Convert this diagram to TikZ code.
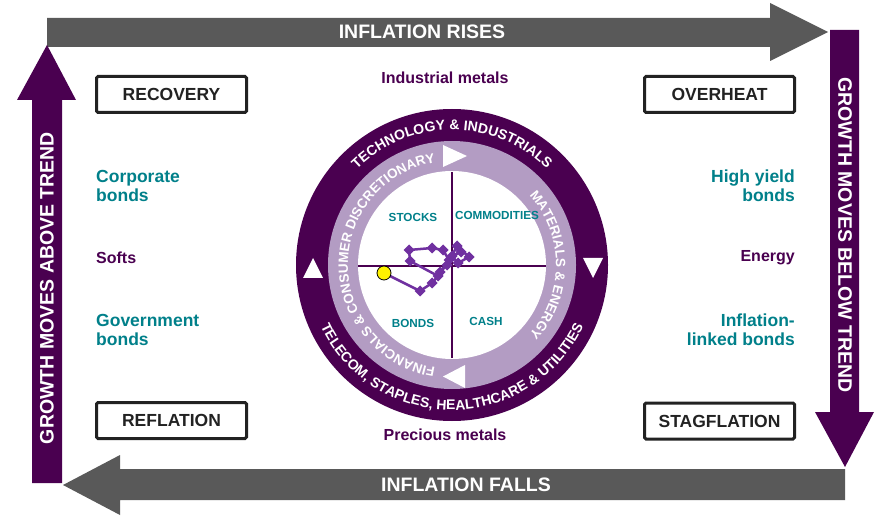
\documentclass[tikz,border=0pt]{standalone}
\usepackage{fontspec}
\setmainfont{Liberation Sans}
\usetikzlibrary{decorations.text}
\definecolor{dpurple}{HTML}{4A0050}
\definecolor{lav}{HTML}{B39CC3}
\definecolor{tealc}{HTML}{00808A}
\definecolor{agray}{HTML}{595959}
\definecolor{boxtext}{HTML}{222222}
\definecolor{zig}{HTML}{7030A0}
\newcommand{\fs}[2]{\fontsize{#1}{#2}\selectfont\bfseries}
\begin{document}
\begin{tikzpicture}[x=1pt,y=1pt,
  phase/.style={draw=boxtext, line width=3pt, rounded corners=1.5pt, minimum width=150pt, minimum height=36pt, inner sep=0pt, font=\fs{17.5}{18}, text=boxtext},
  asset/.style={font=\fs{17.5}{19}, text=tealc, inner sep=0pt},
  commod/.style={font=\fs{16}{17}, text=dpurple, inner sep=0pt},
  quad/.style={font=\fs{11.7}{12}, text=tealc, inner sep=0pt},
  bigtext/.style={font=\fs{19.5}{20}, text=white, inner sep=0pt},
  ringtext/.style={decorate, decoration={text along path, text align=center, text color=white, text={#1}}}
]
\useasboundingbox (0,0) rectangle (894,528);
\fill[white] (0,0) rectangle (894,528);

% big arrows
\fill[agray] (47,510) -- (770,510) -- (770,525) -- (828,496) -- (770,467) -- (770,481) -- (47,481) -- cycle;
\fill[dpurple] (830,498) -- (859,498) -- (859,116) -- (874,116) -- (845,61) -- (815,116) -- (830,116) -- cycle;
\fill[agray] (845,59) -- (120,59) -- (120,73) -- (63,43) -- (120,13) -- (120,28) -- (845,28) -- cycle;
\fill[dpurple] (32,45) -- (32,428) -- (17,428) -- (47,483) -- (76,428) -- (62,428) -- (62,45) -- cycle;

\node[bigtext] (rises) at (422,496) {INFLATION RISES};
\node[bigtext] (falls) at (466,43) {INFLATION FALLS};
\node[bigtext, rotate=-90] (below) at (845,293) {GROWTH MOVES BELOW TREND};
\node[bigtext, rotate=90] (above) at (47,240) {GROWTH MOVES ABOVE TREND};

% phase boxes
\node[phase] (recovery) at (171.5,433.5) {RECOVERY};
\node[phase] (overheat) at (719.5,433.5) {OVERHEAT};
\node[phase] (reflation) at (171.5,107.5) {REFLATION};
\node[phase] (stagflation) at (719.5,107) {STAGFLATION};

% side texts
\node[asset, anchor=west, align=left] (corp) at (96,342.5) {Corporate\\bonds};
\node[commod, anchor=west] (softs) at (96,270) {Softs};
\node[asset, anchor=west, align=left] (gov) at (96,198.5) {Government\\bonds};
\node[asset, anchor=east, align=right] (hy) at (795,342.5) {High yield\\bonds};
\node[commod, anchor=east] (energy) at (795,270) {Energy};
\node[asset, anchor=east, align=right] (il) at (795,198.5) {Inflation-\\linked bonds};
\node[commod] (indmet) at (445,450) {Industrial metals};
\node[commod] (precmet) at (445,93) {Precious metals};

% clock
\coordinate (C) at (452,263);
\fill[dpurple] (C) circle (156);
\fill[lav] (C) circle (124);
\fill[white] (C) circle (94);

\path[ringtext={|\fs{14}{14}|TECHNOLOGY {\&} INDUSTRIALS}] (C) ++(170:135) arc[start angle=170, end angle=10, radius=135];
\path[ringtext={|\fs{14}{14}|TELECOM, STAPLES, HEALTHCARE {\&} UTILITIES}] (C) ++(190:145) arc[start angle=190, end angle=350, radius=145];
\path[ringtext={|\fs{13.5}{14}|MATERIALS {\&} ENERGY}] (C) ++(60:104) arc[start angle=60, end angle=-60, radius=104];
\path[ringtext={|\fs{13.5}{14}|FINANCIALS {\&} CONSUMER DISCRETIONARY}] (C) ++(265:104) arc[start angle=265, end angle=95, radius=104];

% triangles
\fill[white] (443,383) -- (443,361) -- (467,372) -- cycle;
\fill[white] (465,163) -- (465,140) -- (443,151.5) -- cycle;
\fill[white] (303,250) -- (323,250) -- (313,270) -- cycle;
\fill[white] (583,270) -- (603,270) -- (593,250) -- cycle;

% axes
\draw[dpurple, line width=2pt] (358,262) -- (546,262);
\draw[dpurple, line width=2pt] (452,170) -- (452,356);

\node[quad] (stocks) at (413,311) {STOCKS};
\node[quad] (commodities) at (497,313) {COMMODITIES};
\node[quad] (bonds) at (413,205) {BONDS};
\node[quad] (cash) at (486,207) {CASH};

% zigzag
\draw[zig, line width=2.5pt, line join=round] plot coordinates {(384,255) (420,237) (432,245) (438,252) (410,267) (409,278) (432,280) (443,278) (449,268) (440,256) (447,263) (457,282) (469,271) (458,265) (452,272) (461,276)};
\foreach \p in {(420,237),(432,245),(438,252),(410,267),(409,278),(432,280),(443,278),(449,268),(440,256),(447,263),(457,282),(469,271),(458,265),(452,272),(461,276)}
  \fill[zig] \p +(0,5.5) -- +(5.5,0) -- +(0,-5.5) -- +(-5.5,0) -- cycle;
\filldraw[fill=yellow, draw=black, line width=0.8pt] (384,255) circle (7);
\end{tikzpicture}
\end{document}
